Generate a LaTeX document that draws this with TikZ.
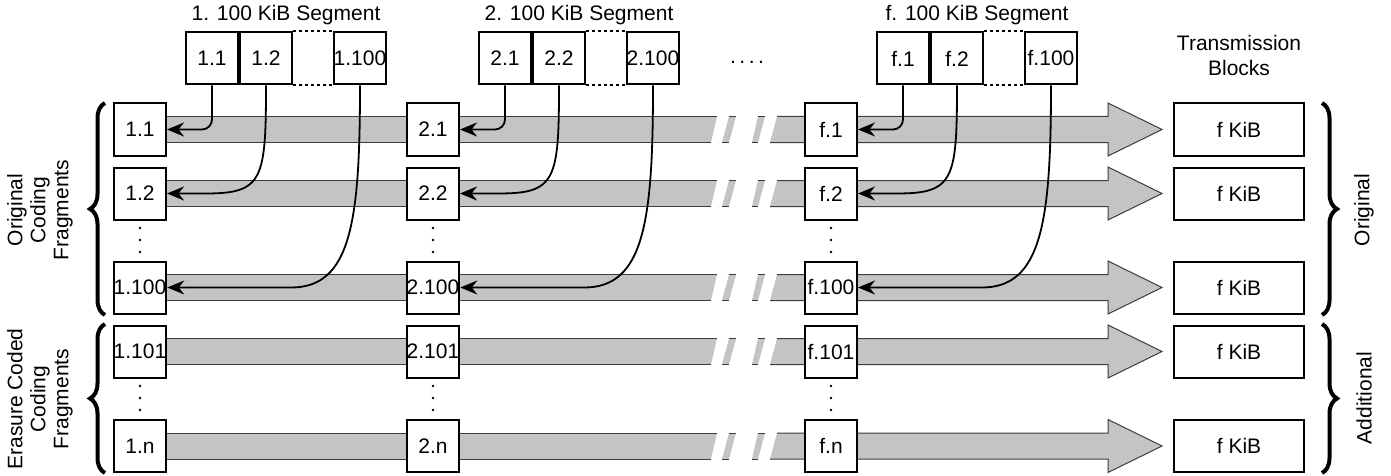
\documentclass[tikz,border=0pt]{standalone}
\usepackage{fontspec}
\setmainfont{Liberation Sans}
\usetikzlibrary{arrows.meta,decorations.pathreplacing,calc}
\definecolor{bandgray}{RGB}{196,196,196}
\definecolor{edgegray}{RGB}{60,60,60}

\begin{document}
\begin{tikzpicture}[x=0.5pt,y=-0.5pt,>={Stealth[length=8.5pt,width=7pt]},
  font=\fontsize{10.5}{11.5}\selectfont,
  frag/.style={draw,line width=1pt,fill=white,minimum width=26pt,minimum height=26pt,inner sep=0pt},
  tblock/.style={frag,minimum width=65pt},
  conn/.style={->,line width=0.9pt},
  brc/.style={decorate,decoration={brace,amplitude=7.5pt},line width=2pt},
  bandedge/.style={draw=edgegray,line width=0.5pt}]
\useasboundingbox (0,0) rectangle (1391,476);
% grey bands with the break marks
\foreach \r/\y in {1/129.5,2/193.5,3/287.5,4/351.5,5/446}{
  \fill[bandgray] (140,\y-13) -- (717,\y-13) -- (711,\y+13) -- (140,\y+13) -- cycle;
  \fill[bandgray] (729,\y-13) -- (736,\y-13) -- (729,\y+13) -- (722,\y+13) -- cycle;
  \fill[bandgray] (758,\y-13) -- (765,\y-13) -- (758,\y+13) -- (752,\y+13) -- cycle;
  \fill[bandgray] (777,\y-13) -- (1108,\y-13) -- (1108,\y-26.5) -- (1162,\y) -- (1108,\y+26.5) -- (1108,\y+13) -- (770,\y+13) -- cycle;
  \draw[bandedge] (140,\y-13) -- (717,\y-13) (711,\y+13) -- (140,\y+13)
    (729,\y-13) -- (736,\y-13) (722,\y+13) -- (729,\y+13)
    (758,\y-13) -- (765,\y-13) (752,\y+13) -- (758,\y+13);
  \draw[bandedge] (777,\y-13) -- (1108,\y-13) -- (1108,\y-26.5) -- (1162,\y) -- (1108,\y+26.5) -- (1108,\y+13) -- (770,\y+13);
  \node[tblock] (tb\r) at (1239,\y) {f KiB};
}
% one column per segment
\foreach \c/\o in {1/0,2/293,f/691}{
  \node[frag] (fr\c-1) at (140+\o,129.5) {\c.1};
  \node[frag] (fr\c-2) at (140+\o,193.5) {\c.2};
  \node[frag] (fr\c-100) at (140+\o,287.5) {\c.100};
  \node[frag] (fr\c-101) at (140+\o,351.5) {\c.101};
  \node[frag] (fr\c-n) at (140+\o,446) {\c.n};
  \foreach \d in {228,240,252,386,398,410}
    \fill (140+\o,\d) circle (0.7pt);
  \node (tt\c) at (286+\o,15) {\c. 100 KiB Segment};
  \node[frag] (sg\c-1) at (212+\o,58.5) {\c.1};
  \node[frag] (sg\c-2) at (266+\o,58.5) {\c.2};
  \node[frag] (sg\c-100) at (360+\o,58.5) {\c.100};
  \draw[line width=1pt,dash pattern=on 1.5pt off 1.5pt] (sg\c-2.north east) -- (sg\c-100.north west)
    (sg\c-2.south east) -- (sg\c-100.south west);
  \draw[conn,rounded corners=5pt] (sg\c-1.south) |- (fr\c-1.east);
  \draw[conn] (sg\c-2.south) .. controls +(0,95) and +(57,0) .. ($(fr\c-2.east)+(38.5,0)$) -- (fr\c-2.east);
  \draw[conn] (sg\c-100.south) .. controls +(0,135) and +(60,0) .. ($(fr\c-100.east)+(124,0)$) -- (fr\c-100.east);
}
\node (segdots) at (747,62) {.\,.\,.\,.};
\node[align=center,font=\fontsize{10.5}{12.5}\selectfont] (tbhead) at (1239,55) {Transmission\\Blocks};
% braces and group labels
\draw[brc] (105,315) -- (105,103);
\draw[brc] (105,473) -- (105,324);
\draw[brc] (1322,103) -- (1322,315);
\draw[brc] (1322,324) -- (1322,473);
\node[rotate=90,align=center] (lblorig) at (40,210) {Original\\Coding\\Fragments};
\node[rotate=90,align=center] (lblera) at (40,399) {Erasure Coded\\Coding\\Fragments};
\node[rotate=90] (lblo) at (1364,210) {Original};
\node[rotate=90] (lbla) at (1364,398) {Additional};
\end{tikzpicture}
\end{document}
